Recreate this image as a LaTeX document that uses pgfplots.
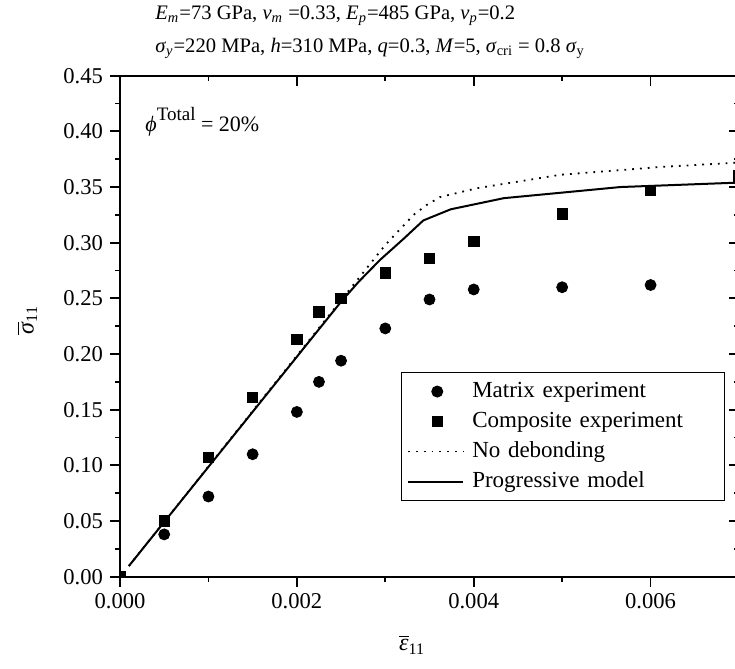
\documentclass[border=0pt]{standalone}
\usepackage{fontspec}
\setmainfont{Liberation Serif}
\usepackage{pgfplots}
\usepackage{pgfplotstable}
\pgfplotsset{compat=1.18}

\pgfplotstableread{
x y
0.0005 0.038
0.0010 0.072
0.0015 0.110
0.0020 0.148
0.00225 0.175
0.0025 0.194
0.0030 0.223
0.0035 0.249
0.0040 0.258
0.0050 0.260
0.0060 0.262
}\matrixdata

\pgfplotstableread{
x y
0.0000 0.000
0.0005 0.050
0.0010 0.107
0.0015 0.161
0.0020 0.213
0.00225 0.238
0.0025 0.250
0.0030 0.273
0.0035 0.286
0.0040 0.301
0.0050 0.326
0.0060 0.347
0.0070 0.360
}\compositedata

\pgfplotstableread{
x y
0.0001 0.0096
0.0030 0.298
0.00332 0.325
0.00347 0.334
0.00362 0.341
0.00404 0.349
0.00498 0.361
0.00611 0.368
0.0070 0.372
}\nodebond

\pgfplotstableread{
x y
0.0001 0.0096
0.0025 0.247
0.0027 0.265
0.00294 0.2845
0.0032 0.303
0.00343 0.320
0.00374 0.330
0.00434 0.340
0.00566 0.350
0.0070 0.354
}\progressive

\pgfplotsset{
  common/.style={
    scale only axis, width=309.5pt, height=250.5pt,
    xmin=0, xmax=0.007, ymin=0, ymax=0.45,
    xtick={0,0.002,0.004,0.006}, minor x tick num=1,
    ytick={0,0.05,0.10,0.15,0.20,0.25,0.30,0.35,0.40,0.45}, minor y tick num=1,
    major tick length=5pt, minor tick length=2.5pt,
    axis line style={line width=0.9pt},
    every tick/.style={line width=0.9pt, black},
    scaled ticks=false,
  },
  markleg/.style={legend image code/.code={\draw[##1] plot coordinates {(14.5pt,0pt)};}},
  lineleg/.style={legend image code/.code={\draw[mark repeat=2,mark phase=2,##1] plot coordinates {(0pt,0pt) (13.75pt,0pt) (27.5pt,0pt)};}},
}

\begin{document}
\begin{tikzpicture}
\begin{axis}[common, name=ax,
  tick align=outside, xtick pos=left, ytick pos=left,
  clip marker paths=true,
  tick label style={font=\fontsize{11.3}{13}\selectfont},
  xticklabel style={/pgf/number format/.cd, fixed, fixed zerofill, precision=3, assume math mode=true},
  yticklabel style={/pgf/number format/.cd, fixed, fixed zerofill, precision=2, assume math mode=true},
  xlabel={$\overline{\mbox{\textit{ε}}}$\textsubscript{11}},
  ylabel={$\overline{\mbox{\textit{σ}}}$\textsubscript{11}},
  xlabel style={at={(axis description cs:0.472,-0.136)}, anchor=center, font=\fontsize{12}{14}\selectfont},
  ylabel style={at={(axis description cs:-0.150,0.512)}, anchor=center, font=\fontsize{12}{14}\selectfont},
  legend style={at={(0.977,0.151)}, anchor=south east, draw=black, line width=0.5pt,
    font=\fontsize{11.5}{13}\selectfont, cells={anchor=west},
    nodes={text width=119pt, text height=8pt, text depth=2.5pt, inner ysep=2.25pt, inner xsep=4pt},
    inner xsep=3pt, inner ysep=2pt},
]
\addplot[only marks, mark=*, mark size=2.75pt, black, markleg] table[x=x,y=y] {\matrixdata};
\addlegendentry{Matrix experiment}
\addplot[only marks, mark=square*, mark size=2.6pt, black, markleg] table[x=x,y=y] {\compositedata};
\addlegendentry{Composite experiment}
\addplot[black, line width=0.9pt, dash pattern=on 0.9pt off 3pt, lineleg] table[x=x,y=y] {\nodebond};
\addlegendentry{No debonding}
\addplot[black, line width=1pt, lineleg] table[x=x,y=y] {\progressive};
\addlegendentry{Progressive model}
\end{axis}
\begin{axis}[common, at={(ax.south west)}, anchor=south west,
  tick align=inside, xtick pos=right, ytick pos=right,
  xticklabels={}, yticklabels={}]
\end{axis}
\node[anchor=base west, inner sep=0pt, font=\fontsize{10.3}{12}\selectfont] at ([xshift=17.5pt,yshift=27.85pt]ax.north west)
  {\textit{E}\textsubscript{\textit{m}}=73 GPa, \textit{ν}\textsubscript{\textit{m}} =0.33, \textit{E}\textsubscript{\textit{p}}=485 GPa, \textit{ν}\textsubscript{\textit{p}}=0.2};
\node[anchor=base west, inner sep=0pt, font=\fontsize{10.3}{12}\selectfont] at ([xshift=17.5pt,yshift=11.85pt]ax.north west)
  {\textit{σ}\textsubscript{\textit{y}}=220 MPa, \textit{h}=310 MPa, \textit{q}=0.3, \textit{M}=5, \textit{σ}\textsubscript{cri} = 0.8 \textit{σ}\textsubscript{y}};
\node[anchor=base west, inner sep=0pt, font=\fontsize{11}{13}\selectfont] at ([xshift=12.5pt,yshift=-27.7pt]ax.north west)
  {\textit{ϕ}\raisebox{5.5pt}{\fontsize{9.5}{10}\selectfont Total} = 20\%};
\pgfresetboundingbox
\useasboundingbox ([xshift=-60pt,yshift=-45.65pt]ax.south west) rectangle ([xshift=-2pt,yshift=37.85pt]ax.north east);
\end{tikzpicture}
\end{document}
